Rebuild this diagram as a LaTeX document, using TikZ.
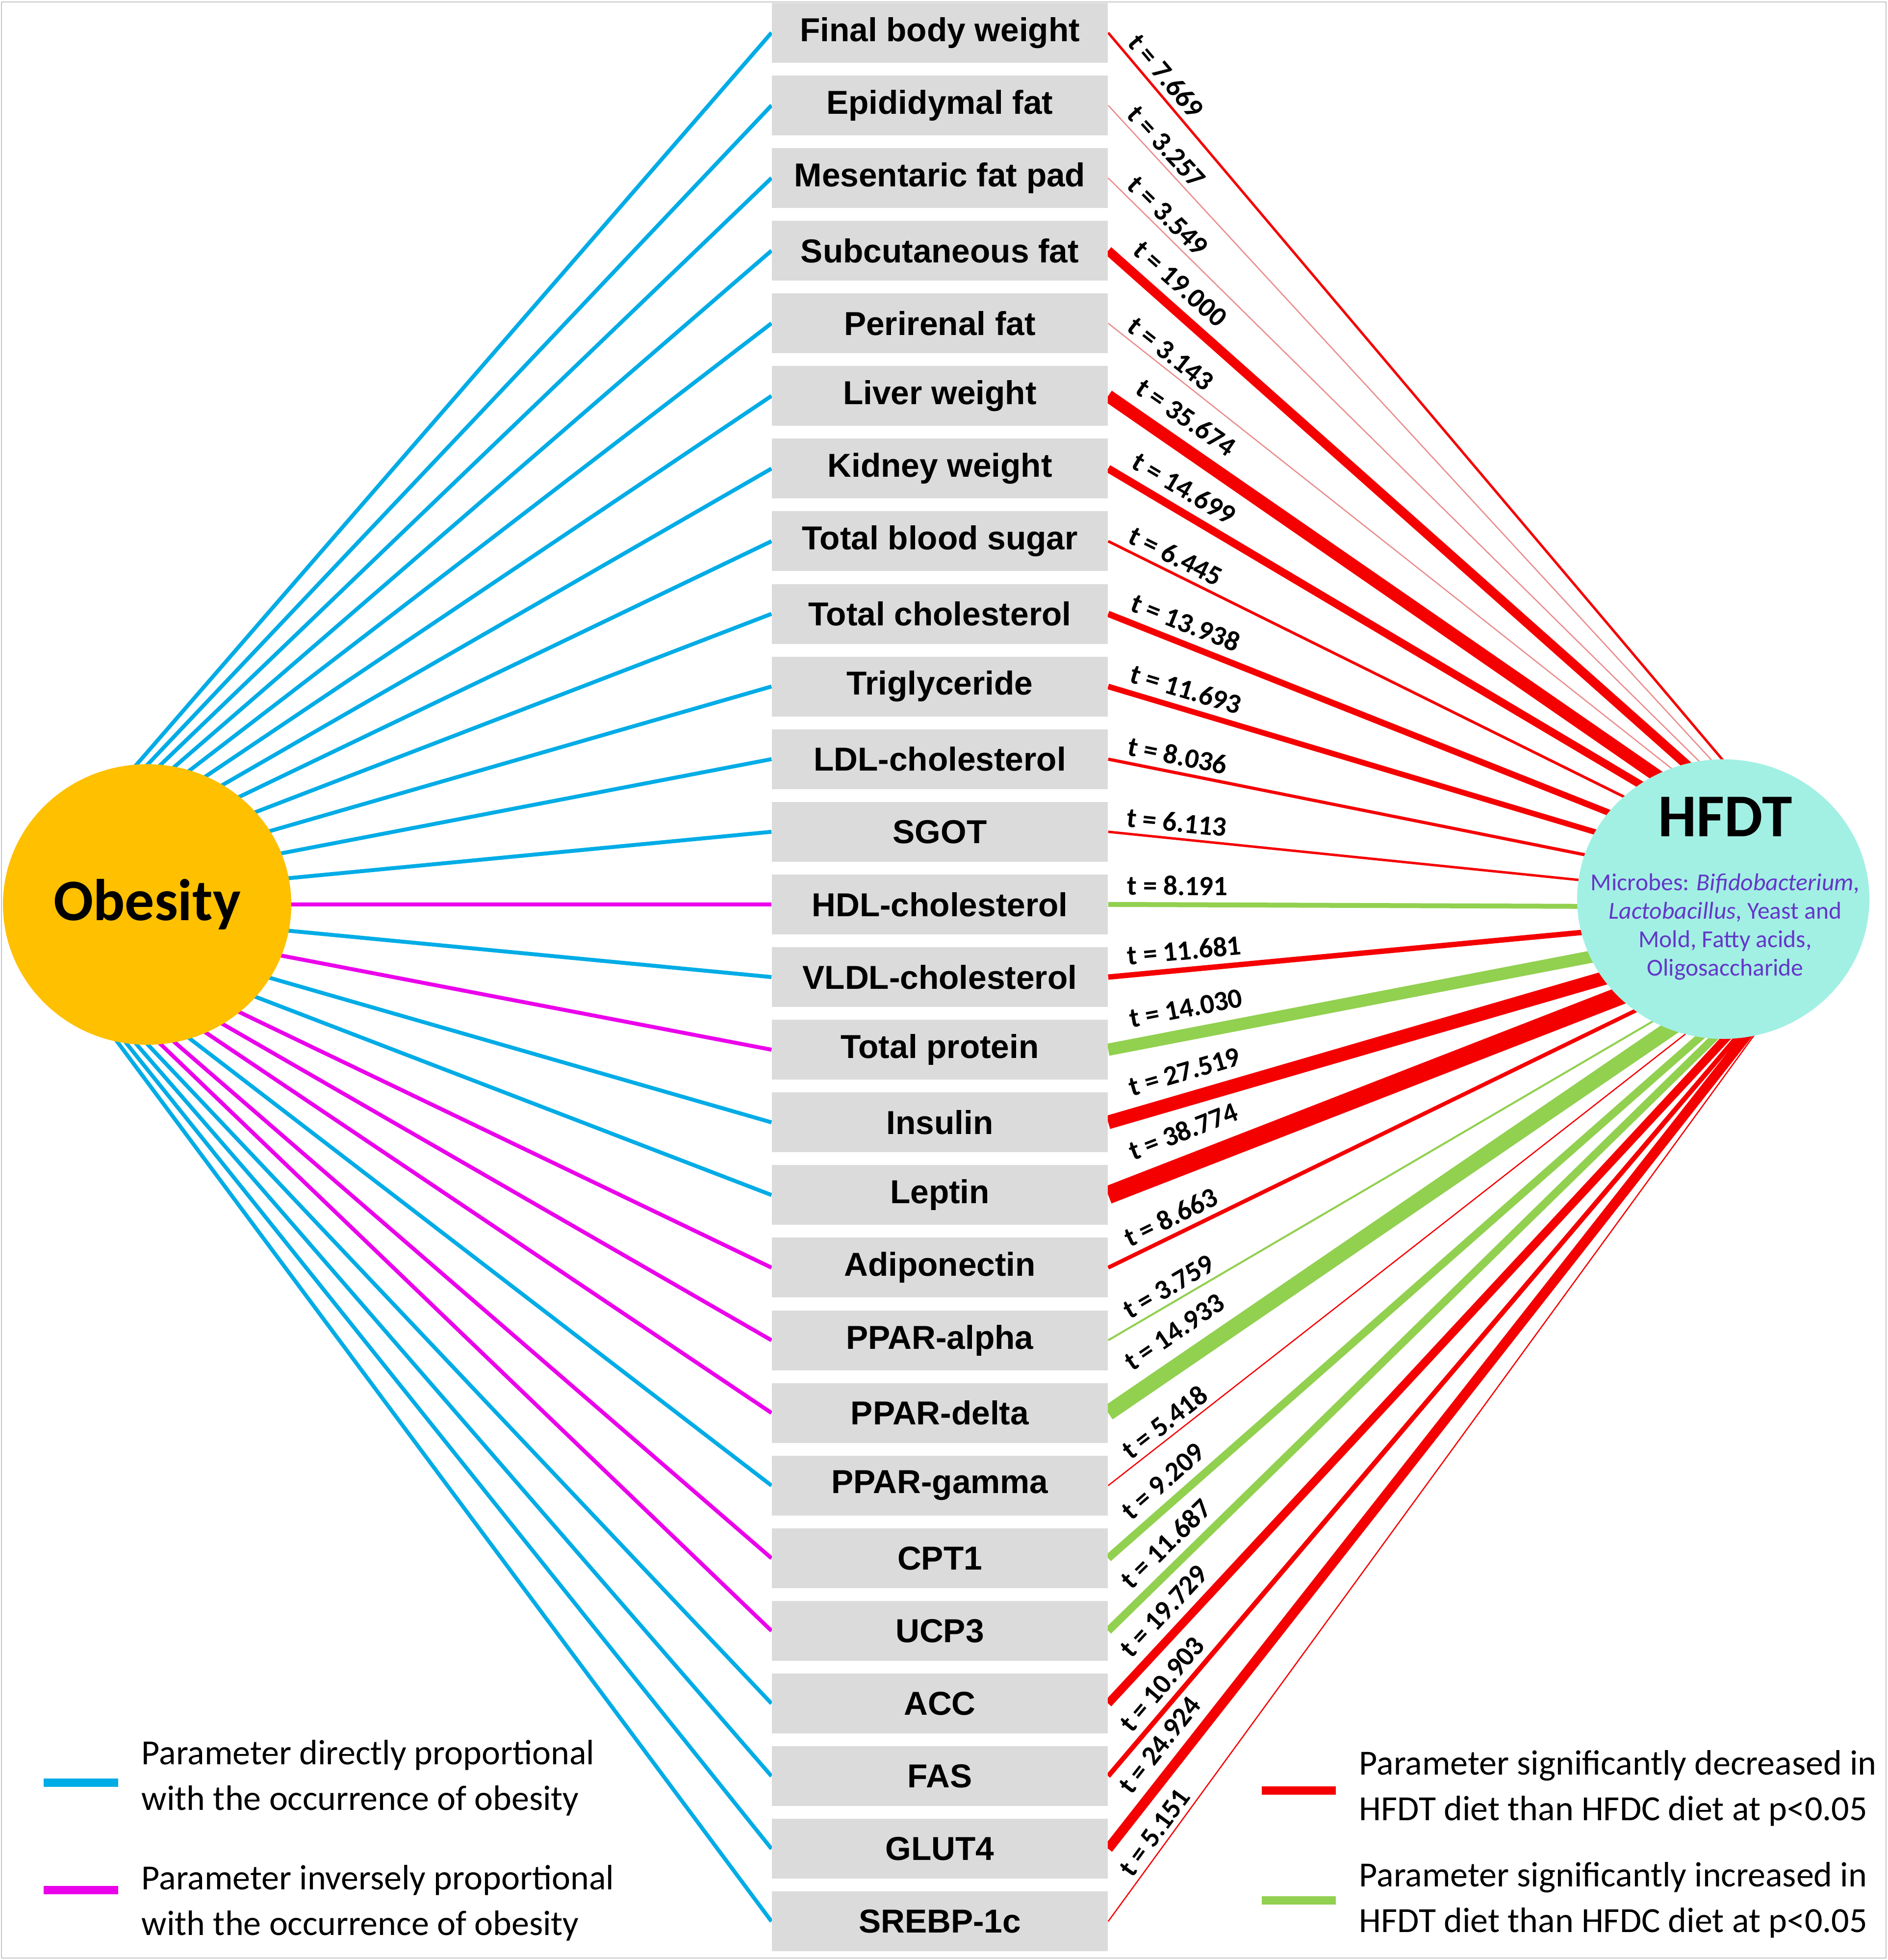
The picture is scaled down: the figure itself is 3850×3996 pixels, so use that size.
\documentclass[tikz,border=0pt]{standalone}
\usepackage{fontspec}
\usepackage{tikz}
\usetikzlibrary{matrix,shapes.geometric,backgrounds}
\newfontfamily\arialfont{Liberation Sans}
\newfontfamily\calfont{Carlito}
\definecolor{obgold}{RGB}{255,192,0}
\definecolor{hfdtaqua}{RGB}{162,240,228}
\definecolor{microbe}{RGB}{100,55,200}
\definecolor{boxgray}{RGB}{219,219,219}
\definecolor{directblue}{RGB}{0,172,230}
\definecolor{inversemag}{RGB}{235,0,235}
\definecolor{decr}{RGB}{245,0,0}
\definecolor{decrpale}{RGB}{235,140,140}
\definecolor{incr}{RGB}{146,208,80}

\begin{document}
\begin{tikzpicture}[x=0.25pt, y=-0.25pt,
	param/.style={fill=boxgray, minimum width=171.25pt, minimum height=30.5pt, inner sep=0pt,
		font=\arialfont\bfseries\fontsize{16.9}{20}\selectfont},
	tlabel/.style={font=\calfont\bfseries\fontsize{14.2}{17}\selectfont, text=black},
	legtext/.style={anchor=west, align=left, inner sep=0pt, font=\calfont\fontsize{18}{23.25}\selectfont},
	swatch/.style={line width=4.25pt}]
	\useasboundingbox (0,0) rectangle (3850,3996);
	\draw[gray!45, line width=0.6pt] (3,4) rectangle (3846,3992);

	\matrix (p) [matrix of nodes, row sep=6.525pt, nodes={param}] at (1916.5,1992)
	{
		Final body weight \\
		Epididymal fat \\
		Mesentaric fat pad \\
		Subcutaneous fat \\
		Perirenal fat \\
		Liver weight \\
		Kidney weight \\
		Total blood sugar \\
		Total cholesterol \\
		Triglyceride \\
		LDL-cholesterol \\
		SGOT \\
		HDL-cholesterol \\
		VLDL-cholesterol \\
		Total protein \\
		Insulin \\
		Leptin \\
		Adiponectin \\
		PPAR-alpha \\
		PPAR-delta \\
		PPAR-gamma \\
		CPT1 \\
		UCP3 \\
		ACC \\
		FAS \\
		GLUT4 \\
		SREBP-1c \\
	};

	\node[ellipse, fill=obgold, minimum width=147pt, minimum height=143pt,
		font=\calfont\bfseries\fontsize{30}{36}\selectfont] (obesity) at (300,1844) {Obesity};
	\node[ellipse, fill=hfdtaqua, minimum width=149pt, minimum height=142.5pt] (hfdt) at (3514,1833) {};
	\node[font=\calfont\bfseries\fontsize{31}{36}\selectfont] (hfdttitle) at (3518,1665) {HFDT};
	\node[align=center, text=microbe, font=\calfont\fontsize{12.4}{14.5}\selectfont] (microbes) at (3518,1890)
		{Microbes: \textit{Bifidobacterium},\\ \textit{Lactobacillus}, Yeast and\\ Mold, Fatty acids,\\ Oligosaccharide};

	\coordinate (obfocus) at (31,1844);
	\coordinate (hfocus) at (3767,1850);

	\begin{scope}[on background layer]
		% obesity side
		\foreach \r/\c in {1/directblue, 2/directblue, 3/directblue, 4/directblue, 5/directblue,
			6/directblue, 7/directblue, 8/directblue, 9/directblue, 10/directblue, 11/directblue,
			12/directblue, 13/inversemag, 14/directblue, 15/inversemag, 16/directblue, 17/directblue,
			18/inversemag, 19/inversemag, 20/inversemag, 21/directblue, 22/inversemag, 23/inversemag,
			24/directblue, 25/directblue, 26/directblue, 27/directblue}
			\draw[\c, line width=2pt] (p-\r-1.west) -- (obfocus);
		% HFDT side, width after t
		\foreach \r/\tv/\w/\c in {1/7.669/5/decr, 2/3.257/2.5/decrpale, 3/3.549/2.5/decrpale,
			4/19.000/19/decr, 5/3.143/2.5/decrpale, 6/35.674/26/decr, 7/14.699/16/decr,
			8/6.445/5.5/decr, 9/13.938/13/decr, 10/11.693/11.5/decr, 11/8.036/6.5/decr,
			12/6.113/5/decr, 13/8.191/10/incr, 14/11.681/11/decr, 15/14.030/25/incr,
			16/27.519/28/decr, 17/38.774/37/decr, 18/8.663/8/decr, 19/3.759/4/incr,
			20/14.933/32/incr, 21/5.418/2.5/decr, 22/9.209/16/incr, 23/11.687/16/incr,
			24/19.729/17/decr, 25/10.903/10/decr, 26/24.924/20/decr, 27/5.151/2.5/decr}
		{
			\pgfmathsetmacro\ang{atan((67+148.1*(\r-1)-1850)/1508)}
			\pgfmathsetmacro\dd{\w/2+9}
			\pgfmathsetmacro\alx{0.25*max(4,(34+(\ang>0)*20*sin(\ang)+\dd*sin(\ang))/cos(\ang))}
			\pgfmathsetmacro\aly{0.25*\dd}
			\pgfmathsetmacro\lw{0.25*\w}
			\draw[\c, line width=\lw pt] (p-\r-1.east) -- node[tlabel, pos=0, sloped, anchor=south west,
				inner xsep=\alx pt, inner ysep=\aly pt] {t = \tv} (hfocus);
		}
	\end{scope}

	% legend
	\draw[directblue, swatch] (89,3634) -- (241,3634);
	\node[legtext] (legdirect) at (288,3625) {Parameter directly proportional\\with the occurrence of obesity};
	\draw[inversemag, swatch] (89,3853) -- (241,3853);
	\node[legtext] (leginverse) at (288,3880) {Parameter inversely proportional\\with the occurrence of obesity};
	\draw[decr, swatch] (2573,3650) -- (2724,3650);
	\node[legtext] (legdecr) at (2771,3646) {Parameter significantly decreased in\\HFDT diet than HFDC diet at p<0.05};
	\draw[incr, swatch] (2573,3874) -- (2724,3874);
	\node[legtext] (legincr) at (2771,3874) {Parameter significantly increased in\\HFDT diet than HFDC diet at p<0.05};
\end{tikzpicture}
\end{document}
